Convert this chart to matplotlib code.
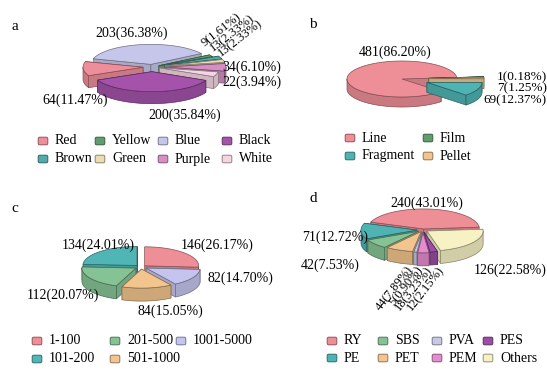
import matplotlib
matplotlib.use("Agg")
import matplotlib.pyplot as plt
import numpy as np
from matplotlib.patches import Polygon, FancyBboxPatch
from matplotlib.colors import to_rgb

plt.rcParams['font.family'] = ['Liberation Serif', 'DejaVu Serif']
plt.rcParams['font.size'] = 10

# colour categories
a_labels = ['Red', 'Yellow', 'Blue', 'Black', 'Brown', 'Green', 'Purple', 'White']
a_counts = [64, 9, 203, 200, 13, 13, 34, 22]
a_pcts = ['11.47', '1.61', '36.38', '35.84', '2.33', '2.33', '6.10', '3.94']
a_colors = ['#ee8e9a', '#5f9e6c', '#c6c6ea', '#a452aa', '#52aaaa', '#ecdcb4', '#d58fc4', '#f4d6e2']

# shape categories
b_labels = ['Line', 'Film', 'Fragment', 'Pellet']
b_counts = [481, 1, 69, 7]
b_pcts = ['86.20', '0.18', '12.37', '1.25']
b_colors = ['#ee8e96', '#5f9e6c', '#4fb3b3', '#f0c490']

# size classes
c_labels = ['1-100', '201-500', '1001-5000', '101-200', '501-1000']
c_counts = [146, 112, 82, 134, 84]
c_pcts = ['26.17', '20.07', '14.70', '24.01', '15.05']
c_colors = ['#ee8e96', '#86c394', '#c4c4ee', '#4fb5b5', '#f2c48e']

# polymer types
d_labels = ['RY', 'SBS', 'PVA', 'PES', 'PE', 'PET', 'PEM', 'Others']
d_counts = [240, 42, 5, 12, 71, 44, 18, 126]
d_pcts = ['43.01', '7.53', '0.90', '2.15', '12.72', '7.89', '3.23', '22.58']
d_colors = ['#ee8e96', '#86c394', '#c8c8e4', '#9a4fa4', '#4fb3b3', '#f2c48e', '#e48ccc', '#f6f2c4']


def shade(c, f):
    r, g, b = to_rgb(c)
    return (r * f, g * f, b * f)


def pie3d(ax, counts, colors, order, center, rx, ry, depth, start, explode):
    total = float(sum(counts))
    cx, cy = center
    ang = start
    wedges = []
    for i in order:
        span = 360.0 * counts[i] / total
        hi, lo = ang, ang - span
        ang = lo
        mid = np.radians((hi + lo) / 2)
        e = explode[i]
        x0 = cx + e * np.cos(mid)
        y0 = cy - e * np.sin(mid) * ry / rx
        wedges.append((lo, hi, colors[i], x0, y0, np.sin(mid)))

    def rim(x0, y0, t, down=0):
        return np.column_stack([x0 + rx * np.cos(t), y0 - ry * np.sin(t) + down])

    for lo, hi, col, x0, y0, s in sorted(wedges, key=lambda w: -w[5]):
        ec = shade(col, 0.55)
        side = shade(col, 0.85)
        kw = dict(edgecolor=ec, linewidth=0.5)
        # radial faces, hidden one first
        faces = []
        for th, vis in ((hi, np.cos(np.radians(hi)) < 0), (lo, np.cos(np.radians(lo)) > 0)):
            t = np.radians(th)
            p = rim(x0, y0, np.array([t]))[0]
            quad = [(x0, y0), tuple(p), (p[0], p[1] + depth), (x0, y0 + depth)]
            faces.append((vis, quad))
        for vis, quad in sorted(faces, key=lambda f: f[0]):
            ax.add_patch(Polygon(quad, closed=True, facecolor=side, **kw))
        # front part of the outer wall
        n = max(int((hi - lo) * 3), 2) + 1
        t = np.radians(np.linspace(lo, hi, n))
        idx = np.where(np.sin(t) < 0)[0]
        if len(idx) > 1:
            runs = np.split(idx, np.where(np.diff(idx) > 1)[0] + 1)
            for r in runs:
                if len(r) < 2:
                    continue
                tt = t[r]
                top = rim(x0, y0, tt)
                bot = rim(x0, y0, tt, depth)[::-1]
                ax.add_patch(Polygon(np.vstack([top, bot]), closed=True,
                                     facecolor=side, **kw))
        # top face
        pts = np.vstack([[x0, y0], rim(x0, y0, t)])
        ax.add_patch(Polygon(pts, closed=True, facecolor=col, **kw))


def legend(ax, labels, colors, xs, ys):
    # entries fill the grid row by row
    ncol = len(xs)
    for k, (name, col) in enumerate(zip(labels, colors)):
        x, y = xs[k % ncol], ys[k // ncol]
        ax.add_patch(FancyBboxPatch((x - 4, y - 3), 8, 6,
                                    boxstyle='round,pad=0.8,rounding_size=1.5',
                                    facecolor=col, edgecolor=shade(col, 0.6),
                                    linewidth=0.7))
        ax.text(x + 12, y, name, ha='left', va='center', fontsize=10)


def lab(counts, pcts, i):
    return '%d(%s%%)' % (counts[i], pcts[i])


W, H = 547, 370
fig = plt.figure(figsize=(W / 100, H / 100), dpi=100)
ax = fig.add_axes([0, 0, 1, 1])
ax.set_xlim(0, W)
ax.set_ylim(H, 0)
ax.axis('off')

for s, (x, y) in zip('abcd', [(15, 27), (313, 25), (15, 209), (313, 198)]):
    ax.text(x, y, s, fontsize=11, ha='center', va='center')

# a
pie3d(ax, a_counts, a_colors, [0, 2, 1, 4, 5, 6, 7, 3], (152, 67), 60, 20, 12, 205,
      [9, 8, 8, 14, 14, 14, 14, 8])
for i, (x, y, ha) in {2: (132, 33, 'center'), 0: (75, 100, 'center'),
                      3: (185, 115, 'center'), 6: (222, 67, 'left'),
                      7: (222, 82, 'left')}.items():
    ax.text(x, y, lab(a_counts, a_pcts, i), ha=ha, va='center')
for i, (x, y) in zip([1, 4, 5], [(203, 44), (211, 49), (219, 54)]):
    ax.text(x, y, lab(a_counts, a_pcts, i), ha='left', va='center', rotation=38,
            rotation_mode='anchor', fontsize=9)
legend(ax, a_labels, a_colors, [43, 100, 163, 227], [141, 159])

# b
pie3d(ax, b_counts, b_colors, [1, 3, 2, 0], (402, 79), 55, 18, 10, 5,
      [0, 27, 27, 27])
ax.text(395, 52, lab(b_counts, b_pcts, 0), ha='center', va='center')
for i, y in zip([1, 3, 2], [77, 88, 100]):
    ax.text(547, y, lab(b_counts, b_pcts, i), ha='right', va='center', fontsize=9.5)
legend(ax, b_labels, b_colors, [350, 428], [138, 156])

# c
pie3d(ax, c_counts, c_colors, [0, 2, 4, 1, 3], (141, 267), 54, 19, 13, 90,
      [5, 6, 6, 6, 6])
for i, (x, y) in {3: (98, 245), 0: (217, 245), 2: (240, 278),
                  1: (63, 295), 4: (170, 311)}.items():
    ax.text(x, y, lab(c_counts, c_pcts, i), ha='center', va='center')
legend(ax, c_labels, c_colors, [37, 115, 181], [341, 359])

# d
pie3d(ax, d_counts, d_colors, [0, 7, 3, 6, 2, 5, 1, 4], (423, 230), 56, 20, 13, 160,
      [3, 6, 6, 6, 6, 5, 8, 5])
for i, (x, y) in {0: (427, 203), 4: (335, 237), 1: (330, 265),
                  7: (510, 270)}.items():
    ax.text(x, y, lab(d_counts, d_pcts, i), ha='center', va='center')
for i, (x, y) in zip([5, 2, 6, 3], [(411, 268), (420, 268), (430, 268), (442, 268)]):
    ax.text(x, y, lab(d_counts, d_pcts, i), ha='right', va='center', rotation=52,
            rotation_mode='anchor', fontsize=9)
legend(ax, d_labels, d_colors, [332, 383, 437, 488], [341, 358])

fig.savefig('out.png', dpi=100)
